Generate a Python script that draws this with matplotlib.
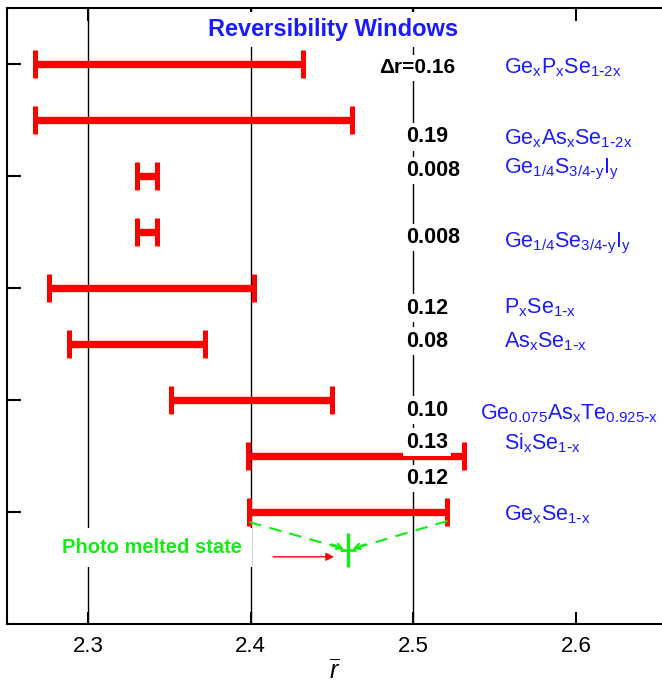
import matplotlib
matplotlib.use("Agg")
import matplotlib.pyplot as plt

plt.rcParams['font.family'] = ['Liberation Sans', 'DejaVu Sans']
plt.rcParams['mathtext.default'] = 'regular'

# one row per glass family, top to bottom
compounds = [r'Ge$_x$P$_x$Se$_{1\text{-}2x}$',
             r'Ge$_x$As$_x$Se$_{1\text{-}2x}$',
             r'Ge$_{1/4}$S$_{3/4\text{-}y}$I$_y$',
             r'Ge$_{1/4}$Se$_{3/4\text{-}y}$I$_y$',
             r'P$_x$Se$_{1\text{-}x}$',
             r'As$_x$Se$_{1\text{-}x}$',
             r'Ge$_{0.075}$As$_x$Te$_{0.925\text{-}x}$',
             r'Si$_x$Se$_{1\text{-}x}$',
             r'Ge$_x$Se$_{1\text{-}x}$']
rows = [1, 2, 3, 4, 5, 6, 7, 8, 9]
r_low = [2.267, 2.267, 2.330, 2.330, 2.276, 2.288, 2.351, 2.398, 2.399]
r_high = [2.432, 2.462, 2.342, 2.342, 2.402, 2.372, 2.450, 2.531, 2.521]
widths = ['\u0394r=0.16', '0.19', '0.008', '0.008', '0.12', '0.08',
          '0.10', '0.13', '0.12']
width_y = [1.07, 2.30, 2.90, 4.10, 5.36, 5.95, 7.18, 7.75, 8.40]
label_y = [1.07, 2.33, 2.89, 4.20, 5.36, 5.96, 7.24, 7.77, 9.05]
label_x = [2.556, 2.556, 2.556, 2.556, 2.556, 2.556, 2.541, 2.556, 2.556]

# photo melted state of GexSe1-x
melt_r = 2.46
melt_y = 9.68

red = '#ff0000'
blue = '#1a1aff'
green = '#11ee11'

fig = plt.figure(figsize=(6.62, 6.85), dpi=100)
ax = fig.add_axes([7 / 662, 61 / 685, 1 - 7 / 662, 616 / 685])

for x in [2.3, 2.4, 2.5]:
    ax.axvline(x, color='black', lw=1.0, zorder=1)

# reversibility windows
for lo, hi, y in zip(r_low, r_high, rows):
    ax.plot([lo, hi], [y, y], color=red, lw=5.3, solid_capstyle='butt',
            zorder=3)
    ax.plot([lo, hi], [y, y], ls='none', marker='|', ms=19.5, mew=3.6,
            color=red, zorder=3)

for txt, y in zip(widths, width_y):
    if txt.startswith('\u0394'):
        ax.text(2.526, y, txt, ha='right', va='center', fontsize=15,
                fontweight='bold', zorder=4,
                bbox=dict(boxstyle='square,pad=0.15', fc='white', ec='none'))
    else:
        ax.text(2.4955, y, txt, ha='left', va='center', fontsize=15.5,
                fontweight='bold', zorder=4,
                bbox=dict(boxstyle='square,pad=0.15', fc='white', ec='none'))

for txt, x, y in zip(compounds, label_x, label_y):
    ax.text(x, y, txt, ha='left', va='center', fontsize=15.5, color=blue)

ax.text(2.4505, 0.39, 'Reversibility Windows', ha='center', va='center',
        fontsize=17, fontweight='bold', color=blue, zorder=4,
        bbox=dict(boxstyle='square,pad=0.25', fc='white', ec='none'))

# photo melted state
ax.plot([r_low[8], melt_r - 0.006], [9.18, melt_y - 0.05], color=green,
        lw=1.5, ls=(0, (6, 4)), zorder=3)
ax.plot([r_high[8], melt_r + 0.006], [9.16, melt_y - 0.05], color=green,
        lw=1.5, ls=(0, (6, 4)), zorder=3)
ax.annotate('', xy=(melt_r - 0.001, melt_y), xytext=(melt_r - 0.012,
            melt_y - 0.12), arrowprops=dict(arrowstyle='->', color=green,
                                            lw=1.5))
ax.annotate('', xy=(melt_r + 0.001, melt_y), xytext=(melt_r + 0.012,
            melt_y - 0.12), arrowprops=dict(arrowstyle='->', color=green,
                                            lw=1.5))
ax.plot([melt_r], [melt_y], ls='none', marker='|', ms=24, mew=2.4,
        color=green, zorder=4)
ax.plot([melt_r], [melt_y], ls='none', marker='_', ms=12, mew=2.0,
        color=green, zorder=4)
ax.annotate('', xy=(2.453, 9.80), xytext=(2.412, 9.80),
            arrowprops=dict(arrowstyle='-|>', color=red, lw=1.0,
                            mutation_scale=12))
ax.text(2.339, 9.64, 'Photo melted state', ha='center', va='center',
        fontsize=14.5, fontweight='bold', color=green, zorder=4,
        bbox=dict(boxstyle='square,pad=0.5', fc='white', ec='none'))

ax.set_xlim(2.25, 2.653)
ax.set_ylim(11, 0)
ax.set_xticks([2.3, 2.4, 2.5, 2.6])
ax.set_xticklabels(['2.3', '2.4', '2.5', '2.6'])
ax.set_yticks([1, 3, 5, 7, 9])
ax.set_yticklabels([])
ax.tick_params(axis='x', direction='in', length=9, width=1.5, top=True,
               labelsize=16, pad=9)
ax.tick_params(axis='y', direction='in', length=10, width=1.5)
ax.spines['right'].set_visible(False)
for side in ['left', 'top', 'bottom']:
    ax.spines[side].set_linewidth(1.5)
ax.set_xlabel(r'$\overline{r}$', fontsize=18, labelpad=1)
ax.xaxis.label.set_fontstyle('italic')

fig.savefig('out.png', dpi=100)
